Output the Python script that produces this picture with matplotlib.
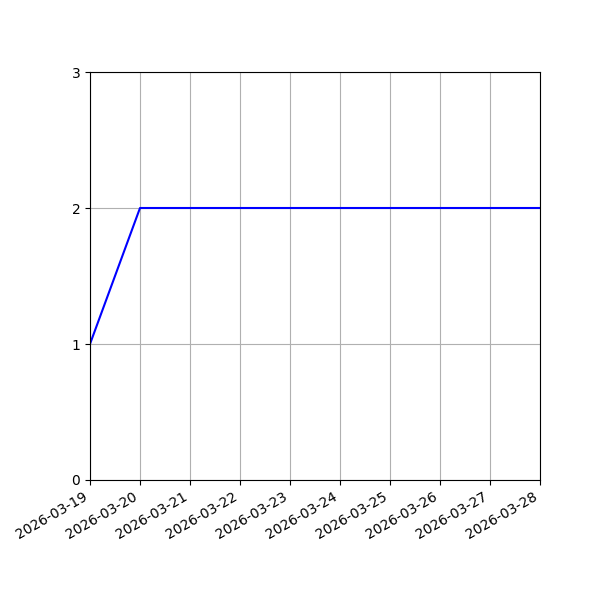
import matplotlib
matplotlib.use("Agg")
import matplotlib.pyplot as plt
import matplotlib.dates as mdates
import numpy as np

dates = np.array(['2026-03-19', '2026-03-20', '2026-03-21', '2026-03-22', '2026-03-23',
                  '2026-03-24', '2026-03-25', '2026-03-26', '2026-03-27', '2026-03-28'],
                 dtype='datetime64[D]')
counts = [1, 2, 2, 2, 2, 2, 2, 2, 2, 2]

fig, ax = plt.subplots(figsize=(6, 6), dpi=100)
ax.plot(dates, counts, color='blue')
ax.set_xlim(dates[0], dates[-1])
ax.set_ylim(0, 3)
ax.set_yticks([0, 1, 2, 3])
ax.xaxis.set_major_locator(mdates.DayLocator())
ax.xaxis.set_major_formatter(mdates.DateFormatter('%Y-%m-%d'))
ax.grid(True)
fig.autofmt_xdate()
fig.subplots_adjust(left=0.15, right=0.9, top=0.88, bottom=0.2)
plt.savefig('out.png')
